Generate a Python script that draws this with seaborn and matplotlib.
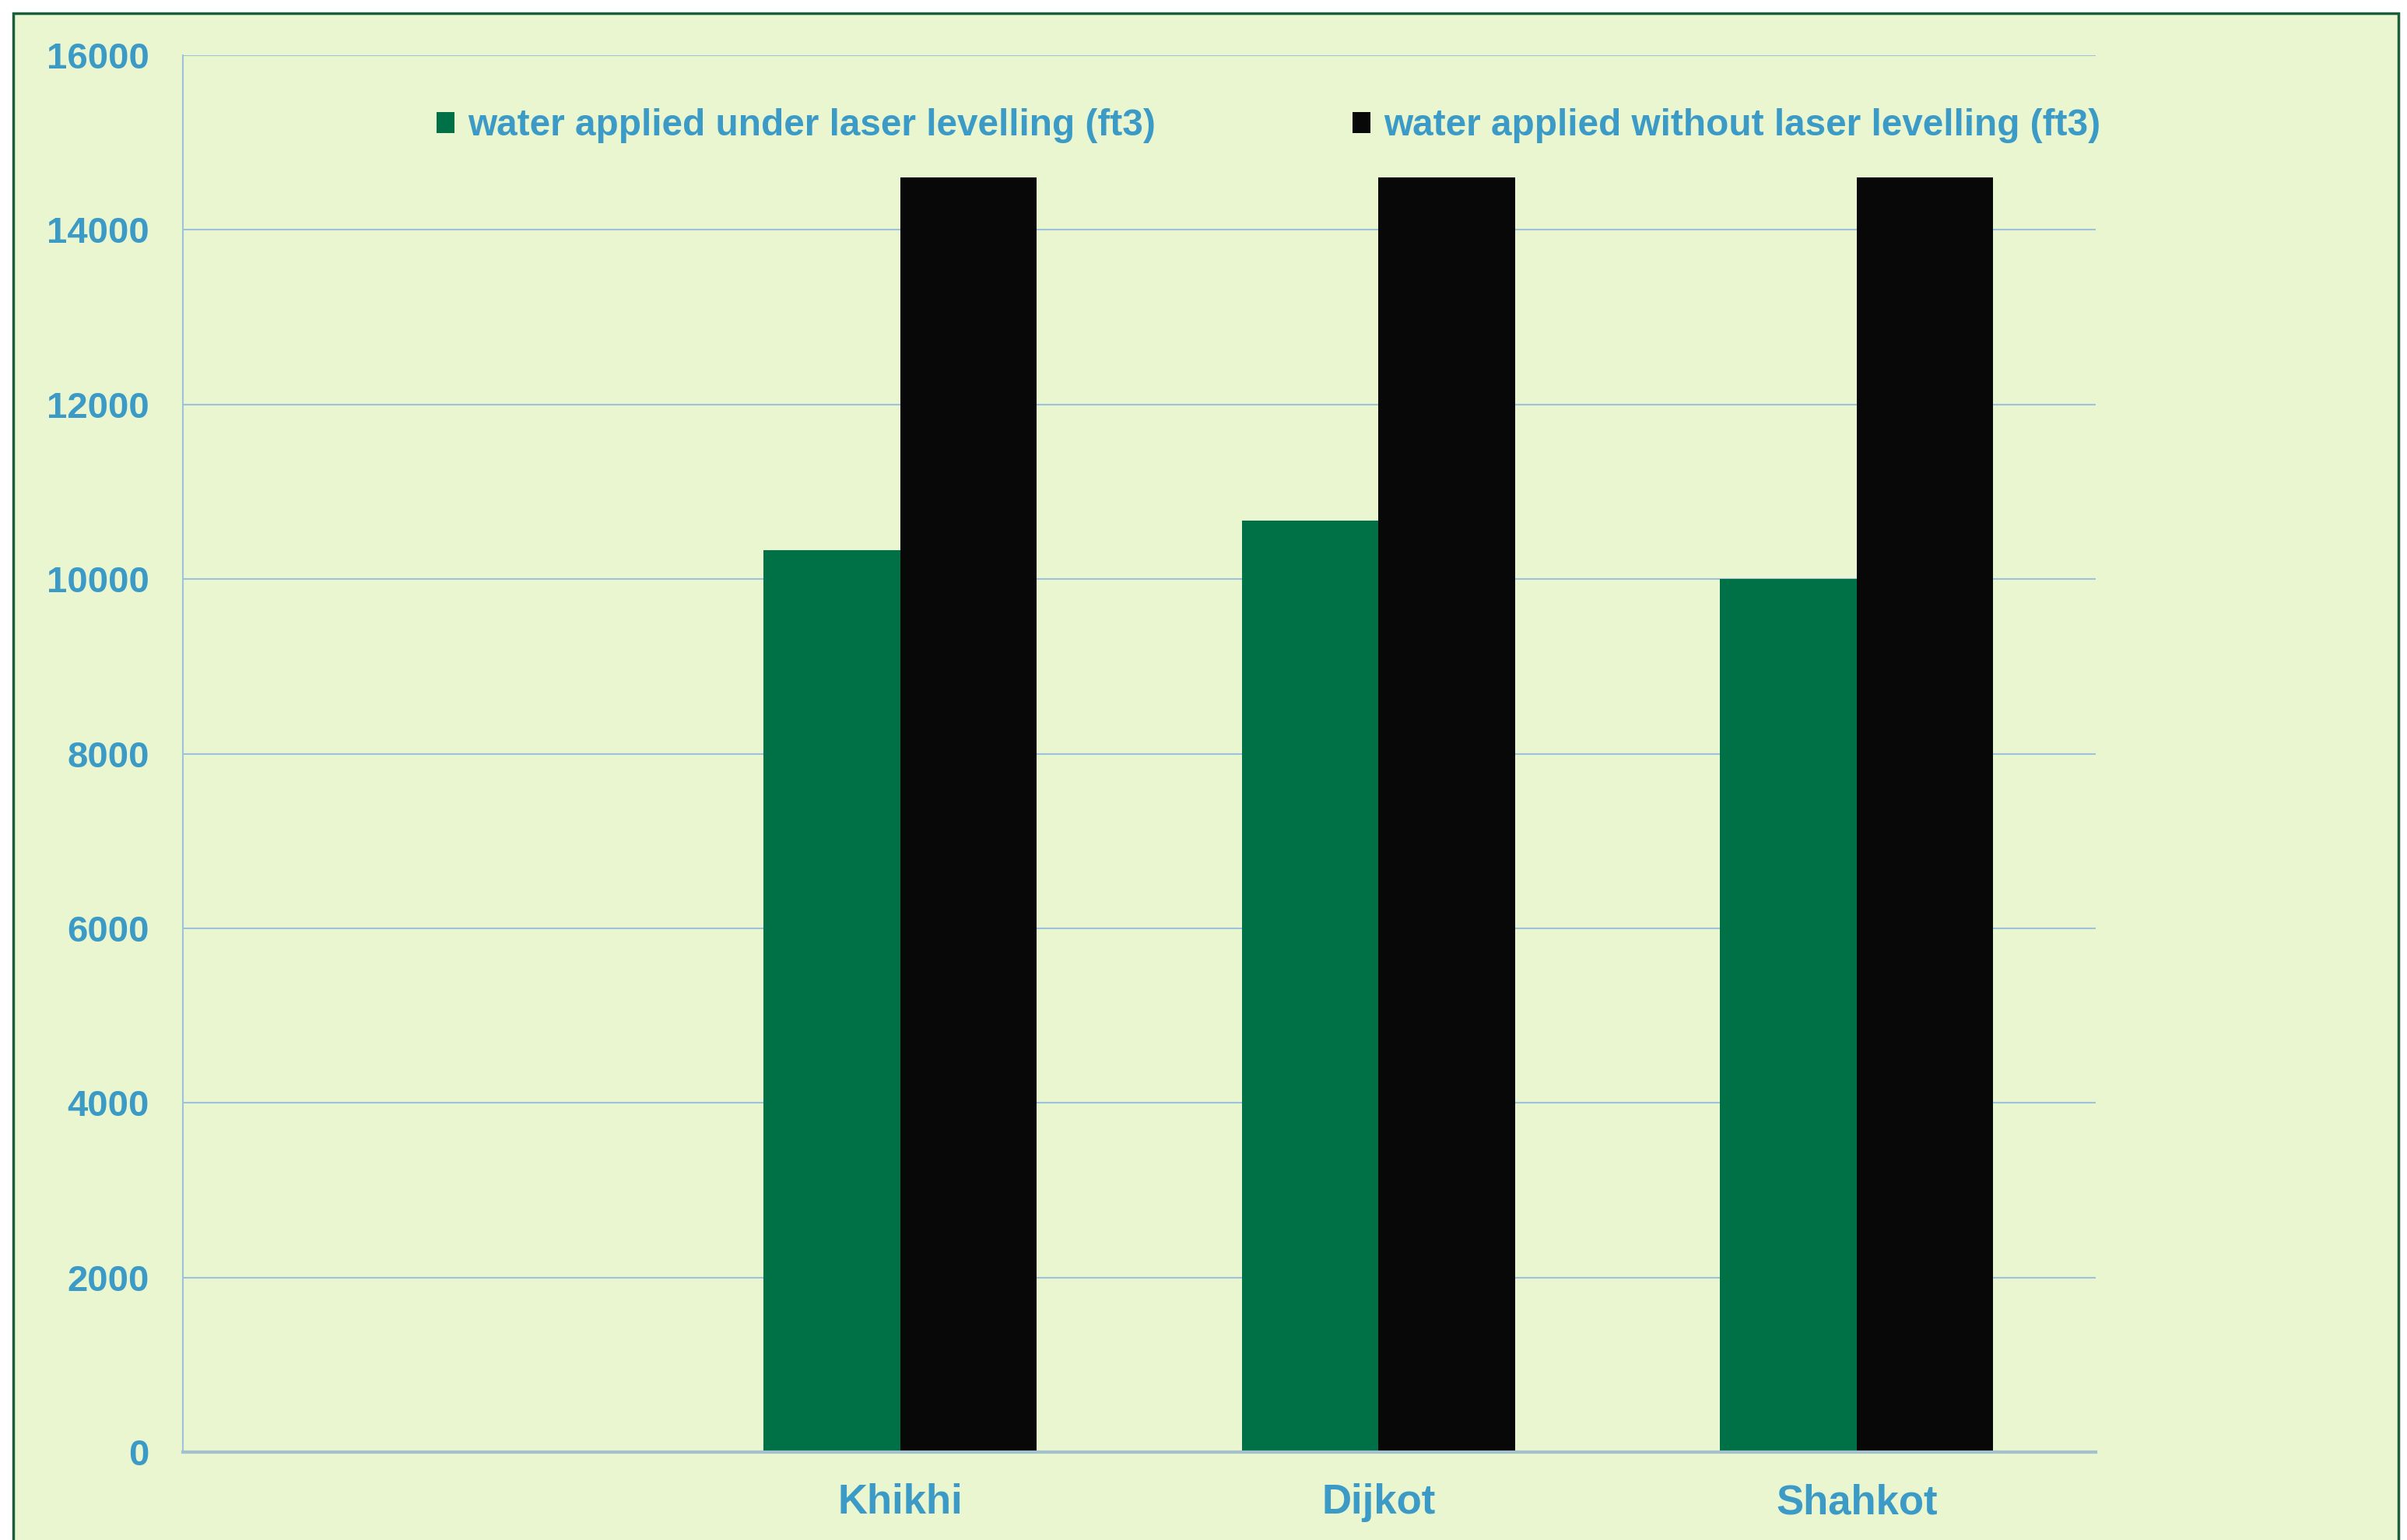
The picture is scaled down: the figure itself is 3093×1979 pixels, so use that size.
import matplotlib
matplotlib.use("Agg")
import matplotlib.pyplot as plt
import matplotlib.patches as mpatches
import seaborn as sns
import pandas as pd
import numpy as np

categories = ["", "Khikhi", "Dijkot", "Shahkot"]
with_laser = [np.nan, 10330, 10670, 10000]
without_laser = [np.nan, 14600, 14600, 14600]
series_names = ["water applied under laser levelling (ft3)",
                "water applied without laser levelling (ft3)"]
yticks = [0, 2000, 4000, 6000, 8000, 10000, 12000, 14000, 16000]

BG = "#EAF6CF"
TXT = "#3C9AC6"
GREEN = "#007147"
BLACK = "#080808"
GRID = "#9FC2DC"

sns.set_theme(style="white")
plt.rcParams['font.family'] = ['Liberation Sans', 'DejaVu Sans']
plt.rcParams['font.weight'] = 'bold'

df = pd.DataFrame({
    "cat": categories * 2,
    "value": with_laser + without_laser,
    "series": [series_names[0]] * 4 + [series_names[1]] * 4,
})

fig = plt.figure(figsize=(30.93, 19.79), dpi=100, facecolor="white")
# outer chart frame
frame = mpatches.Rectangle((17 / 3093, -0.05), (3082 - 17) / 3093, 1.05 - 17 / 1979,
                           transform=fig.transFigure, facecolor=BG,
                           edgecolor="#1B5E3B", linewidth=2.5, zorder=-10)
fig.patches.append(frame)

ax = fig.add_axes([235 / 3093, 1 - 1866 / 1979, (2693 - 235) / 3093, (1866 - 71) / 1979])
ax.set_facecolor("none")

sns.barplot(data=df, x="cat", y="value", hue="series", order=categories,
            hue_order=series_names, palette=[GREEN, BLACK], width=0.5714,
            gap=0, saturation=1, ax=ax, legend=False, edgecolor="none", linewidth=0)

ax.set_ylim(0, 16000)
ax.set_xlim(-0.5, 3.5)
ax.set_yticks(yticks)
ax.set_yticklabels([str(v) for v in yticks])
ax.yaxis.grid(True, color=GRID, linewidth=1.5)
ax.set_axisbelow(True)
ax.set_xlabel("")
ax.set_ylabel("")
for s in ["top", "right"]:
    ax.spines[s].set_visible(False)
ax.spines["left"].set_color(GRID)
ax.spines["left"].set_linewidth(1.5)
ax.spines["bottom"].set_color("#A3C1CC")
ax.spines["bottom"].set_linewidth(3)
ax.tick_params(axis="y", length=0, pad=31, labelsize=34, labelcolor=TXT)
ax.tick_params(axis="x", length=0, pad=29, labelsize=38, labelcolor=TXT)
for lab in ax.get_xticklabels() + ax.get_yticklabels():
    lab.set_fontweight("bold")

handles = [mpatches.Patch(facecolor=GREEN, edgecolor="none"),
           mpatches.Patch(facecolor=BLACK, edgecolor="none")]
leg = fig.legend(handles, series_names, loc="center",
                 bbox_to_anchor=(1630 / 3093, 1 - 162 / 1979), ncol=2,
                 frameon=False, fontsize=34.4, handlelength=0.48, handleheight=0.48,
                 handletextpad=0.35, columnspacing=5.3)
for t in leg.get_texts():
    t.set_color(TXT)
    t.set_fontweight("bold")

fig.savefig("out.png", dpi=100, facecolor="white")
